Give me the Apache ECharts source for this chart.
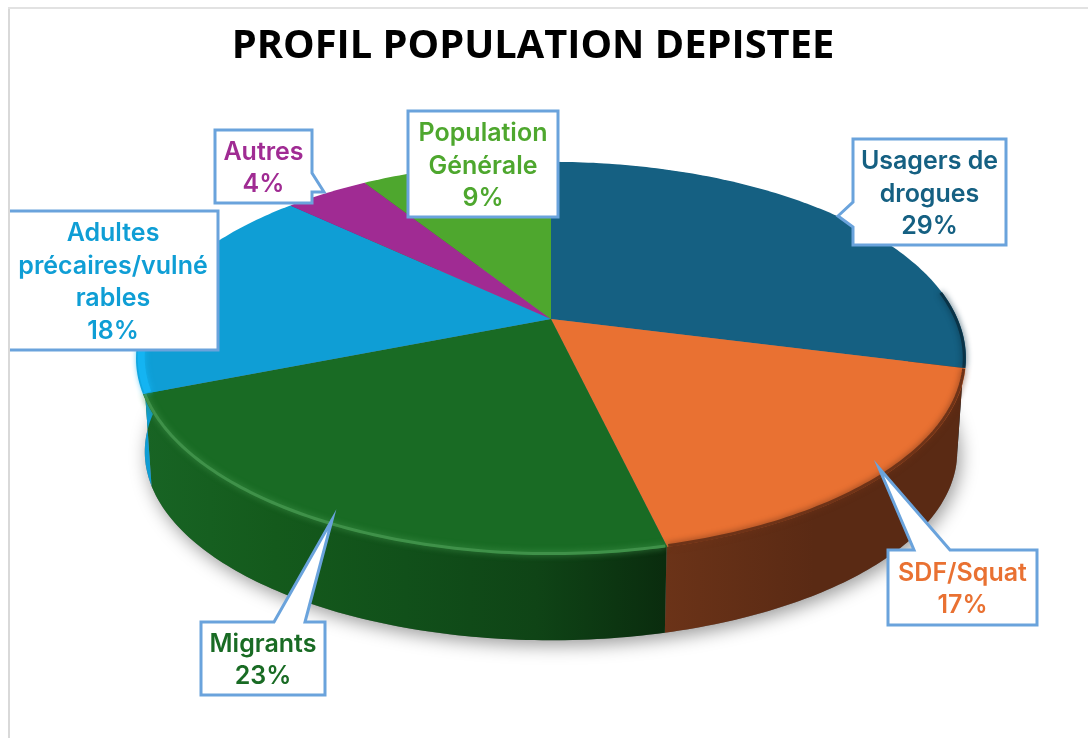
<!DOCTYPE html>
<html>
<head>
<meta charset="utf-8">
<style>
    html, body { margin: 0; padding: 0; background: #fff; }
    #chart { width: 1088px; height: 738px; }
</style>
<script src="https://cdn.jsdelivr.net/npm/echarts@6/dist/echarts.min.js"></script>
</head>
<body>
<div id="chart"></div>
<script>
// data (labels show the rounded share)
const categories = ['Usagers de\ndrogues', 'SDF/Squat', 'Migrants', 'Adultes\nprécaires/vulné\nrables', 'Autres', 'Population\nGénérale']
const shares = [29, 17.3, 22.7, 18, 4, 9]

// colours
const topColors = ['#156082', '#E97132', '#196B24', '#0F9ED5', '#A02B93', '#4EA72E']
const rimColors = ['#0a3347', '#6e3318', '#3f9149', '#14b4f2', '#A02B93', '#4EA72E']
const sideColors = [
    ['#0d4058', '#0b3549'],
    ['#6b3318', '#5a2a14', '#5a2a14'],
    ['#186424', '#145a1c', '#11501a', '#0f4416', '#0a2c0e'],
    ['#0f9ed5', '#0d86b6'],
    ['#7a2070', '#7a2070'],
    ['#3b8022', '#3b8022']
]

// perspective disc: apex of the slices, scale and foreshortening
const topDisc = { x: 551, y: 319, a: 406.6, b: 188.6 }
const bottomDisc = { x: 551, y: 414, a: 398, b: 181 }
const K = -0.2

// callout boxes [left, top, right, bottom] and pointer (3 points)
const callouts = [
    { box: [853, 139, 1006, 245], side: 'left', pointer: [[853, 202], [838, 216], [853, 227]] },
    { box: [888, 550, 1037, 625], side: 'top', pointer: [[950, 550], [879, 468], [914, 550]] },
    { box: [201, 622, 325, 695], side: 'top', pointer: [[305, 622], [332, 520], [274, 622]] },
    { box: [10, 211, 218, 350], openLeft: true, textX: 113 },
    { box: [215, 130, 312, 203], side: 'right', pointer: [[312, 173], [324, 192], [312, 192]] },
    { box: [408, 111, 558, 217] }
]

const total = shares.reduce((a, b) => a + b, 0)
const starts = shares.map((v, i) => shares.slice(0, i).reduce((a, b) => a + b, 0))

// a point of the disc, share position p in 0..total, r radius factor
function project(disc, p, r) {
    const t = p / total * Math.PI * 2
    const u = Math.sin(t) * r
    const v = -Math.cos(t) * r
    const d = 1 + K * v
    return [disc.x + disc.a * u / d, disc.y + disc.b * v / d, v]
}

function arc(disc, from, to, r) {
    const n = Math.max(2, Math.ceil((to - from) * 4))
    const pts = []
    for (let i = 0; i <= n; i++) {
        pts.push(project(disc, from + (to - from) * i / n, r))
    }
    return pts
}

function xy(pts) {
    return pts.map(p => [p[0], p[1]])
}

function renderSide(params, api) {
    const i = params.dataIndex
    const from = starts[i]
    const to = from + api.value(0)
    const bottom = arc(bottomDisc, from, to, 1)
    const top = arc(topDisc, from, to, 0.995)
    const cols = sideColors[i]
    const children = []
    if (i === 0) {
        // soft shadow on the floor, below the whole disc
        children.push({
            type: 'polygon',
            shape: { points: xy(arc(bottomDisc, 0, total, 1)) },
            style: { fill: '#777', shadowColor: 'rgba(0,0,0,0.4)', shadowBlur: 18, shadowOffsetX: 3, shadowOffsetY: 5 }
        })
    }
    children.push({
        type: 'polygon',
        shape: { points: xy(top).concat(xy(bottom).reverse()) },
        style: {
            fill: new echarts.graphic.LinearGradient(0, 0, 1, 0, cols.map((c, k) => ({
                offset: k / (cols.length - 1),
                color: c
            })))
        }
    })
    return { type: 'group', children: children }
}

function renderTop(params, api) {
    const i = params.dataIndex
    const from = starts[i]
    const to = from + api.value(0)
    const apex = [topDisc.x, topDisc.y]
    const children = [{
        type: 'polygon',
        shape: { points: [apex].concat(xy(arc(topDisc, from, to, 1))) },
        style: { fill: topColors[i] }
    }]
    // bevel along the near edge only
    const near = arc(topDisc, from + 0.05, to - 0.05, i === 3 ? 0.988 : 0.996).filter(p => p[2] > -0.15)
    if (near.length > 1) {
        children.push({
            type: 'polyline',
            shape: { points: xy(near) },
            style: {
                fill: 'none',
                stroke: rimColors[i],
                lineWidth: i === 3 ? 7 : 3,
                shadowColor: rimColors[i],
                shadowBlur: 6
            }
        })
    }
    return { type: 'group', children: children }
}

function renderCallout(params, api) {
    const i = params.dataIndex
    const c = callouts[i]
    const [l, t, r, b] = c.box
    let pts = [[l, t], [r, t], [r, b], [l, b]]
    if (c.side === 'top') pts = [[l, t]].concat(c.pointer.slice().reverse(), [[r, t], [r, b], [l, b]])
    if (c.side === 'right') pts = [[l, t], [r, t]].concat(c.pointer, [[r, b], [l, b]])
    if (c.side === 'left') pts = [[l, t], [r, t], [r, b], [l, b]].concat(c.pointer.slice().reverse())
    const stroke = { stroke: '#6aa3dc', lineWidth: 3, lineJoin: 'miter' }
    // the box that touches the frame has no left line
    const outline = c.openLeft ? [
        { type: 'polygon', shape: { points: pts }, style: { fill: '#fff' } },
        { type: 'polyline', shape: { points: pts }, style: Object.assign({ fill: 'none' }, stroke) }
    ] : [
        { type: 'polygon', shape: { points: pts }, style: Object.assign({ fill: '#fff' }, stroke) }
    ]
    return {
        type: 'group',
        children: outline.concat([{
            type: 'text',
            style: {
                x: c.textX || (l + r) / 2,
                y: (t + b) / 2 + 2,
                text: categories[i] + '\n' + Math.round(api.value(0)) + '%',
                align: 'center',
                verticalAlign: 'middle',
                fontFamily: 'Inter',
                fontWeight: 600,
                fontSize: 25,
                lineHeight: 32.5,
                fill: topColors[i]
            }
        }])
    }
}

const seriesData = shares.map(v => [v])
const chart = echarts.init(document.getElementById('chart'), null, { renderer: 'canvas' })
chart.setOption({
    animation: false,
    backgroundColor: '#fff',
    title: {
        text: 'PROFIL POPULATION DEPISTEE',
        left: 528,
        top: 22,
        textAlign: 'center',
        textStyle: { fontFamily: 'Open Sans', fontWeight: 700, fontSize: 39.8, color: '#000' }
    },
    graphic: [
        { type: 'rect', z: 10, shape: { x: 8, y: 7, width: 2, height: 731 }, style: { fill: '#d9d9d9' }, silent: true },
        { type: 'rect', z: 10, shape: { x: 8, y: 7, width: 1080, height: 2 }, style: { fill: '#e2e2e2' }, silent: true }
    ],
    series: [
        { type: 'custom', coordinateSystem: 'none', silent: true, data: seriesData, renderItem: renderSide, z: 1 },
        { type: 'custom', coordinateSystem: 'none', silent: true, data: seriesData, renderItem: renderTop, z: 2 },
        { type: 'custom', coordinateSystem: 'none', silent: true, data: seriesData, renderItem: renderCallout, z: 3 }
    ]
})
</script>
</body>
</html>
